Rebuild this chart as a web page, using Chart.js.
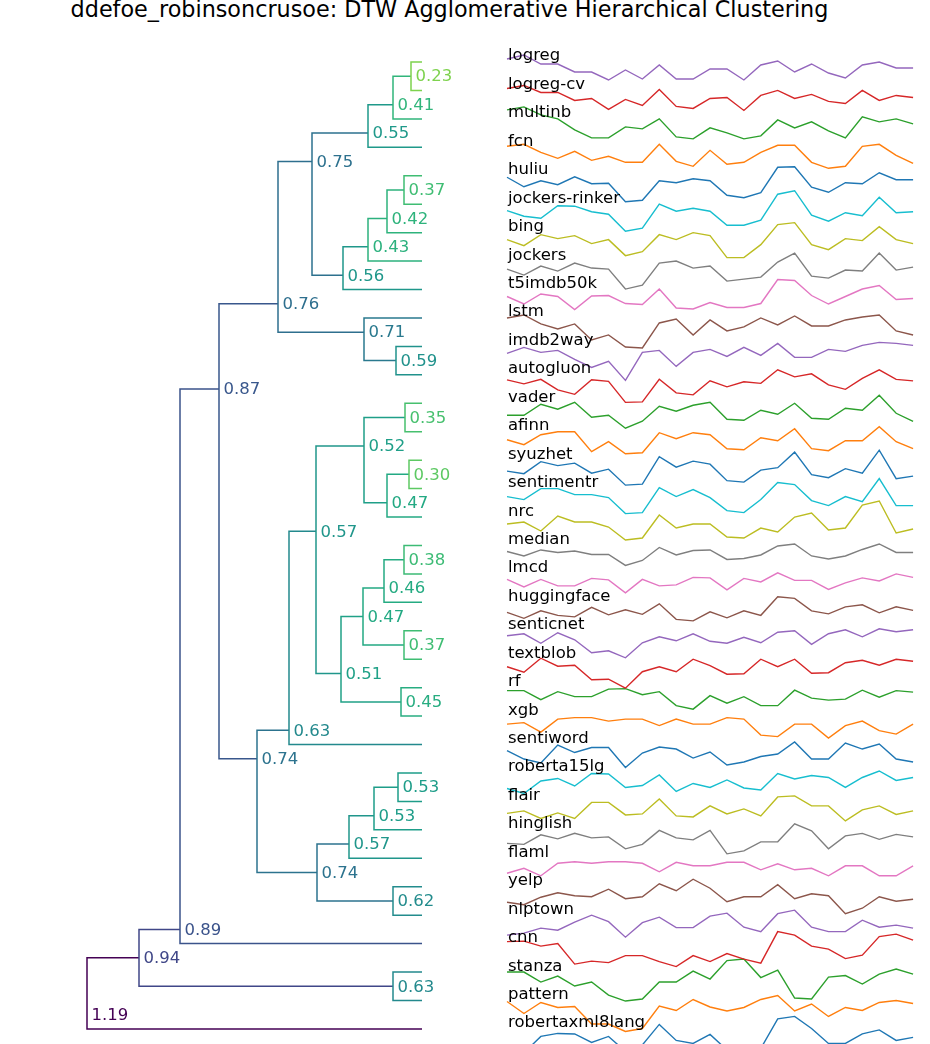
<!DOCTYPE html>
<html>
<head>
<meta charset="utf-8">
<script src="https://cdn.jsdelivr.net/npm/chart.js@4.4.1/dist/chart.umd.min.js"></script>
<style>
html, body { margin: 0; padding: 0; background: #fff; }
body { width: 930px; height: 1044px; position: relative; overflow: hidden; font-family: "DejaVu Sans", sans-serif; }
#title { position: absolute; left: 0; top: -2px; width: 899px; text-align: center; font-size: 22.3px; line-height: 22px; color: #000; white-space: nowrap; }
#dendroBox { position: absolute; left: 0; top: 0; width: 470px; height: 1044px; }
#seriesBox { position: absolute; left: 500px; top: 0; width: 430px; height: 1044px; }
</style>
</head>
<body>
<div id="title">ddefoe_robinsoncrusoe: DTW Agglomerative Hierarchical Clustering</div>
<div id="dendroBox"><canvas id="dendro"></canvas></div>
<div id="seriesBox"><canvas id="series"></canvas></div>
<script>
// leaves, top to bottom
const leaf_names = ["logreg", "logreg-cv", "multinb", "fcn", "huliu", "jockers-rinker", "bing", "jockers",
  "t5imdb50k", "lstm", "imdb2way", "autogluon", "vader", "afinn", "syuzhet", "sentimentr", "nrc", "median",
  "lmcd", "huggingface", "senticnet", "textblob", "rf", "xgb", "sentiword", "roberta15lg", "flair", "hinglish",
  "flaml", "yelp", "nlptown", "cnn", "stanza", "pattern", "robertaxml8lang"];

// merges: ids < 35 are leaves, id 35 + k is merge k
const merge_first  = [0, 35, 36, 4, 38, 39, 40, 37, 10, 9, 42, 12, 14, 47, 46, 17, 50, 20, 51, 22, 53, 49, 56, 25, 58, 59, 29, 60, 57, 45, 64, 32, 65, 67];
const merge_second = [1, 2, 3, 5, 6, 7, 8, 41, 11, 43, 44, 13, 15, 16, 48, 18, 19, 21, 52, 23, 54, 55, 24, 26, 27, 28, 30, 61, 62, 63, 31, 33, 66, 34];
const merge_dist   = [0.23, 0.41, 0.55, 0.37, 0.42, 0.43, 0.56, 0.75, 0.59, 0.71, 0.76, 0.35, 0.30, 0.47, 0.52, 0.38, 0.46, 0.37, 0.47, 0.45,
  0.51, 0.57, 0.63, 0.53, 0.53, 0.57, 0.62, 0.74, 0.74, 0.87, 0.89, 0.63, 0.94, 1.19];
// linkage height used for the tree layout
const merge_height = [1.1, 2.9, 5.4, 1.8, 3.5, 5.4, 7.9, 11.0, 2.6, 5.8, 14.4, 1.7, 1.3, 3.5, 5.8, 1.8, 3.8, 1.8, 5.9, 2.1,
  8.1, 10.6, 13.3, 2.4, 4.8, 7.3, 2.9, 10.5, 16.5, 20.3, 24.2, 2.9, 28.3, 33.5];

// sentiment arcs, 25 points each
const s_logreg = [1.1, 1.5, 0.6, 0.6, -0.2, -0.2, -1.0, 0.0, -0.9, 0.5, -0.9, -0.9, 0.1, 0.1, -1.0, 0.5, 0.9, -0.2, 0.6, -0.3, -0.8, 0.5, 0.8, 0.2, 0.2];
const s_logreg_cv = [1.0, 1.3, 0.6, 0.6, -0.2, 0.0, -1.1, -0.1, -0.7, 0.9, -0.8, -1.0, 0.0, 0.1, -1.2, 0.3, 0.8, 0.0, 0.4, -0.3, -0.5, 0.8, -0.2, 0.3, 0.1];
const s_multinb = [1.7, 2.0, 1.2, 0.8, -0.3, -1.1, -1.1, 0.0, -0.2, 0.8, -1.0, -1.2, -0.1, -0.6, -1.2, -0.9, 0.7, -0.1, 0.5, -0.4, -1.1, 1.0, 0.5, 0.8, 0.3];
const s_fcn = [0.9, 1.1, 0.3, -0.3, 0.4, -0.5, -0.1, -0.7, -0.7, 1.1, -0.6, -1.1, 0.5, -0.9, -0.7, 0.3, 1.0, 1.0, -0.7, -1.3, -1.1, 0.9, 1.1, 0.0, -0.8];
const s_huliu = [0.65, -0.3, 0.3, -0.1, 0.7, 0.0, 0.05, -1.8, -1.65, 0.3, 0.1, 0.5, 0.3, -1.15, -1.4, -0.9, 1.65, 1.7, -0.35, -0.85, 0.1, 0.0, 1.1, 0.4, 0.4];
const s_jockers_rinker = [0.15, -0.4, -0.6, 0.65, 0.6, 0.05, -0.2, -1.9, -1.6, 0.8, 0.1, 0.4, 0.1, -1.3, -1.3, -0.8, 1.8, 2.15, -0.3, -0.9, -0.05, -0.35, 1.5, -0.05, 0.05];
const s_bing = [0.1, -0.5, 0.6, 0.2, 0.5, -0.3, 0.1, -1.5, -1.1, 0.6, 0.1, 0.8, 0.5, -1.7, -1.7, -0.4, 1.6, 1.8, -0.4, -0.9, 0.2, 0.0, 1.4, 0.1, -0.3];
const s_jockers = [0.0, -0.6, 0.3, -0.2, 0.6, 0.1, 0.0, -2.0, -1.6, 0.6, 0.8, 0.1, 0.3, -1.2, -1.0, -0.8, 0.7, 1.6, -0.7, -0.9, -0.1, -0.2, 1.6, -0.1, 0.2];
const s_t5imdb50k = [0.1, -0.65, 0.35, 0.1, -1.2, 0.15, 0.2, -0.6, -0.7, 0.85, -1.05, -1.15, -0.5, -1.0, -1.0, -0.6, 1.8, 1.7, 0.2, -0.65, 0.1, 0.85, 1.2, -0.2, -0.1];
const s_lstm = [0.8, 1.1, 0.2, -0.3, 0.2, -1.4, -0.9, -2.1, -2.2, 0.3, 0.7, -0.9, 0.6, -0.5, -0.1, 0.8, 0.1, 1.0, 0.0, 0.0, 0.6, 0.9, 1.1, -0.5, -0.9];
const s_imdb2way = [0.1, 0.7, 0.2, 0.4, -0.5, -1.3, -0.7, -2.6, 0.2, 0.4, -1.2, 0.2, 0.5, -0.2, 0.7, -0.1, 1.1, -0.3, -0.3, 0.5, 0.3, 0.9, 1.2, 1.1, 0.9];
const s_autogluon = [0.3, -0.1, 0.35, -0.7, -1.15, 0.3, 0.15, -1.95, -1.9, 0.35, -1.0, -1.2, 0.2, -0.4, 0.1, -0.05, 1.3, 0.6, 0.9, -0.2, -0.65, 0.45, 1.3, 0.35, 0.2];
const s_vader = [-0.4, -0.4, 0.7, 0.2, 0.9, -0.6, -0.4, -1.7, -1.0, 0.5, 0.0, 0.6, 0.9, -0.8, -0.9, 0.1, -0.3, 0.8, -0.7, -0.8, 0.3, 0.1, 1.6, -0.2, -1.0];
const s_afinn = [0.0, -0.5, 0.5, 0.8, 0.8, -1.2, -0.2, -1.4, -1.3, 0.7, 0.1, 0.7, 0.5, -0.9, -1.0, 0.2, -0.1, 1.1, -0.9, -1.1, -0.1, -0.1, 1.3, -0.2, -0.9];
const s_syuzhet = [-0.3, -0.55, 0.65, 0.25, 0.5, -0.5, -0.1, -1.7, -1.6, 1.15, 0.1, 0.7, 0.4, -1.25, -1.4, -0.2, 0.05, 1.6, -0.65, -0.95, -0.05, -0.5, 1.8, -1.05, -0.8];
const s_sentimentr = [0.0, -0.3, 0.8, 0.8, 0.2, 0.2, -0.1, -1.7, -1.6, 0.9, 0.0, 0.7, -0.1, -1.4, -1.6, -0.3, 1.4, 1.2, -0.4, -0.9, 0.0, -0.5, 1.8, -0.9, -0.9];
const s_nrc = [0.1, 0.3, -0.6, 0.9, 0.3, 0.3, -0.2, -1.5, -1.3, 1.0, -0.3, 0.1, 0.1, -1.2, -1.3, -0.3, -0.7, 0.8, 1.2, -0.5, -0.3, 2.0, 2.4, -0.8, -0.4];
const s_median = [0.2, -0.25, 0.35, 0.1, 0.25, -0.1, -0.1, -1.2, -0.7, 0.6, -0.15, 0.3, 0.35, -0.6, -0.5, -0.15, 0.75, 0.95, -0.25, -0.55, -0.25, 0.4, 0.95, 0.1, 0.1];
const s_lmcd = [0.25, -0.5, 0.25, -0.4, -0.4, 0.35, 0.2, -1.1, 0.25, -0.4, -0.3, 0.45, 0.4, -0.8, 0.35, 0.0, 0.9, 0.15, 0.15, -0.75, -0.1, 0.4, 0.1, 0.8, 0.45];
const s_huggingface = [-0.2, -0.8, -0.05, -0.5, -0.65, 0.3, -0.45, 0.05, -0.4, 0.65, -0.9, -1.05, -0.15, -0.75, -0.05, -0.5, 1.35, 1.2, -0.05, -0.35, 0.35, 0.55, -0.25, 0.35, 0.0];
const s_senticnet = [0.3, 0.5, -0.45, 0.6, -0.1, -1.4, -1.2, -1.9, -0.4, 0.2, -0.2, 0.5, -0.25, -0.45, 0.15, -0.4, 0.65, 0.8, -0.55, 0.5, 0.9, 0.2, 1.0, 0.7, 0.9];
const s_textblob = [0.05, -0.5, 0.9, 0.1, 0.2, -1.25, -1.2, -2.1, -0.45, 0.05, -0.45, 0.8, 0.15, -0.7, -0.65, 0.8, 0.05, 0.8, -0.6, -0.55, 0.45, 0.7, 0.2, 0.8, 0.6];
const s_rf = [0.5, 0.5, -0.4, 0.4, -0.1, -0.1, 0.65, 0.7, 0.1, 0.4, -1.0, -1.35, 0.0, -0.75, -0.1, -1.0, -1.0, 0.55, -0.25, -0.45, -0.35, 0.55, -0.15, 0.5, 0.35];
const s_xgb = [0.0, 0.15, -0.8, 0.5, 0.65, 0.65, 0.3, 0.5, 0.5, -0.15, 0.5, 0.0, 0.0, 0.65, 0.5, -1.1, -1.25, 0.0, 0.0, -1.4, -0.15, 0.3, -0.65, -1.0, 0.0];
const s_sentiword = [0.2, -0.65, -1.05, 0.75, 0.0, 0.5, 0.5, -1.5, -0.05, 0.55, 0.35, -0.55, 0.05, -1.25, -0.95, -0.4, -0.15, 1.05, -0.65, -0.65, 0.95, 0.35, 0.85, -0.65, -0.95];
const s_roberta15lg = [-0.75, -1.25, 0.0, 0.25, -0.5, 0.75, 0.7, -0.65, -0.45, 0.6, -1.05, -0.25, -0.65, 0.1, -0.7, -0.9, 0.75, 0.2, 0.55, 0.35, -0.65, 0.35, 1.0, 0.05, 0.35];
const s_flair = [-0.4, -0.15, -0.9, -0.35, -0.9, 0.7, 0.7, -0.55, -0.45, 1.05, -0.65, -0.75, 0.35, -0.45, 0.05, -0.65, 1.25, 1.35, 0.35, 0.35, -1.15, -0.05, 0.35, -0.5, -0.15];
const s_hinglish = [-0.55, -0.65, 0.3, -0.1, 0.45, 0.0, 0.1, -1.1, -0.65, 0.75, 0.0, -0.2, 0.75, -1.6, -1.3, -0.4, -0.4, 1.4, 0.7, -1.1, 0.2, 0.45, -0.15, 0.35, 0.1];
const s_flaml = [-0.7, -0.2, -0.95, 0.3, 0.45, 0.3, 0.45, 0.45, 0.3, -0.55, 0.4, 0.05, 0.05, 0.4, 0.4, -0.35, 0.25, -0.35, -0.2, -0.95, 0.05, 0.05, -0.95, -0.95, 0.05];
const s_yelp = [-0.75, -1.0, -0.25, 0.2, -0.1, -0.2, 0.55, -0.4, -0.2, 1.1, 0.4, 1.55, 0.65, -0.7, -0.2, -0.2, 1.0, -0.4, 0.1, -0.1, -1.9, -1.35, -0.2, -0.65, -0.45];
const s_nlptown = [-1.2, -1.0, -0.5, -0.7, 0.1, 0.8, 0.15, -1.4, 0.05, 0.6, -0.45, -0.45, 0.7, 1.0, -0.4, -0.85, 0.95, 1.3, -0.4, -0.85, -0.85, 0.3, -0.4, -0.2, -0.5];
const s_cnn = [1.0, 1.05, 0.55, 0.8, -1.25, -0.95, -1.1, -0.4, -0.4, -1.0, -1.5, -0.4, -1.0, -0.2, -0.75, -1.15, 2.0, 1.65, 0.55, 0.25, -0.7, -0.35, 1.5, 1.75, 1.15];
const s_stanza = [0.8, 0.8, -0.2, 0.4, -0.6, -0.2, -1.5, -2.1, -1.9, -0.2, -0.2, 0.9, 0.1, 1.95, 2.1, 0.25, 1.0, -1.8, -1.9, 0.3, 0.45, -0.4, 0.6, 1.1, 0.6];
const s_pattern = [0.7, -0.5, 0.6, 0.1, 0.2, -1.55, -1.55, -2.3, -2.0, 0.25, -0.2, 0.9, 0.15, -0.25, 0.1, 0.9, 1.3, -0.25, 0.45, -0.8, 0.1, -0.2, 0.6, 0.8, 0.5];
const s_robertaxml8lang = [-1.3, -1.6, 0.05, 0.35, 0.3, -0.55, 0.05, -1.45, -0.8, 1.25, -0.35, -0.65, 0.25, -1.3, -1.45, -1.15, 1.8, 2.05, 0.85, -0.65, -0.65, 0.3, 0.7, -0.35, -0.05];

const series_rows = [s_logreg, s_logreg_cv, s_multinb, s_fcn, s_huliu, s_jockers_rinker, s_bing, s_jockers,
  s_t5imdb50k, s_lstm, s_imdb2way, s_autogluon, s_vader, s_afinn, s_syuzhet, s_sentimentr, s_nrc, s_median,
  s_lmcd, s_huggingface, s_senticnet, s_textblob, s_rf, s_xgb, s_sentiword, s_roberta15lg, s_flair, s_hinglish,
  s_flaml, s_yelp, s_nlptown, s_cnn, s_stanza, s_pattern, s_robertaxml8lang];

const tab10 = ['#1f77b4', '#ff7f0e', '#2ca02c', '#d62728', '#9467bd', '#8c564b', '#e377c2', '#7f7f7f', '#bcbd22', '#17becf'];
const viridisStops = ['#440154', '#471365', '#482475', '#463480', '#414487', '#3b528b', '#355f8d', '#2f6c8e', '#2a788e', '#25848e', '#21918c',
  '#1e9c89', '#22a884', '#2fb47c', '#44bf70', '#5ec962', '#7ad151', '#9bd93c', '#bddf26', '#dfe318', '#fde725'];

function hexToRgb(h) {
  return [parseInt(h.slice(1, 3), 16), parseInt(h.slice(3, 5), 16), parseInt(h.slice(5, 7), 16)];
}
function viridis(t) {
  t = Math.max(0, Math.min(1, t));
  const f = t * (viridisStops.length - 1);
  const i = Math.min(Math.floor(f), viridisStops.length - 2);
  const a = hexToRgb(viridisStops[i]), b = hexToRgb(viridisStops[i + 1]);
  const u = f - i;
  const c = a.map((v, k) => Math.round(v + (b[k] - v) * u));
  return `rgb(${c[0]},${c[1]},${c[2]})`;
}

const nLeaves = leaf_names.length;
const maxDist = Math.max(...merge_dist);
const FONT = '16.5px "DejaVu Sans", sans-serif';

// shared vertical scale in row units
const Y_MIN = -2.18, Y_MAX = 34.53;

// tree layout
const nodes = [];
for (let i = 0; i < nLeaves; i++) nodes.push({ h: 0, y: i, lo: i, hi: i });
for (let k = 0; k < merge_first.length; k++) {
  const a = nodes[merge_first[k]], b = nodes[merge_second[k]];
  nodes.push({ h: merge_height[k], y: (a.hi + b.lo) / 2, lo: a.lo, hi: b.hi });
}

const dendroSets = [];
for (let k = 0; k < merge_first.length; k++) {
  const a = nodes[merge_first[k]], b = nodes[merge_second[k]], n = nodes[nLeaves + k];
  const col = viridis(1 - merge_dist[k] / maxDist);
  dendroSets.push({
    data: [{ x: a.h, y: a.y }, { x: n.h, y: a.y }, { x: n.h, y: b.y }, { x: b.h, y: b.y }],
    borderColor: col,
    borderWidth: 1.5,
    showLine: true,
    pointRadius: 0,
    tension: 0
  });
}

const dendroLabels = {
  id: 'dendroLabels',
  afterDatasetsDraw(chart) {
    const ctx = chart.ctx, xs = chart.scales.x, ys = chart.scales.y;
    ctx.save();
    ctx.font = FONT;
    ctx.textAlign = 'left';
    ctx.textBaseline = 'middle';
    for (let k = 0; k < merge_first.length; k++) {
      const n = nodes[nLeaves + k];
      ctx.fillStyle = viridis(1 - merge_dist[k] / maxDist);
      ctx.fillText(merge_dist[k].toFixed(2), xs.getPixelForValue(n.h) + 4.5, ys.getPixelForValue(n.y) + 1);
    }
    ctx.restore();
  }
};

new Chart(document.getElementById('dendro'), {
  type: 'scatter',
  data: { datasets: dendroSets },
  options: {
    responsive: true,
    maintainAspectRatio: false,
    animation: false,
    events: [],
    layout: { padding: 0 },
    plugins: { legend: { display: false }, tooltip: { enabled: false } },
    scales: {
      x: { type: 'linear', display: false, reverse: true, min: -4.8, max: 42.2 },
      y: { type: 'linear', display: false, reverse: true, min: Y_MIN, max: Y_MAX }
    }
  },
  plugins: [dendroLabels]
});

// series panel
const AMP = 10 / 28.44, BASE = 8 / 28.44;
const seriesSets = series_rows.map((vals, row) => ({
  data: vals.map((v, i) => ({ x: i, y: row + BASE - v * AMP })),
  borderColor: tab10[(nLeaves - 1 - row) % 10],
  borderWidth: 1.4,
  showLine: true,
  pointRadius: 0,
  tension: 0
}));

const rowLabels = {
  id: 'rowLabels',
  afterDatasetsDraw(chart) {
    const ctx = chart.ctx, xs = chart.scales.x, ys = chart.scales.y;
    ctx.save();
    ctx.font = FONT;
    ctx.fillStyle = '#000';
    ctx.textAlign = 'left';
    ctx.textBaseline = 'alphabetic';
    leaf_names.forEach((name, row) => {
      ctx.fillText(name, xs.getPixelForValue(0) + 1, ys.getPixelForValue(row) - 1.5);
    });
    ctx.restore();
  }
};

new Chart(document.getElementById('series'), {
  type: 'scatter',
  data: { datasets: seriesSets },
  options: {
    responsive: true,
    maintainAspectRatio: false,
    animation: false,
    events: [],
    layout: { padding: 0 },
    plugins: { legend: { display: false }, tooltip: { enabled: false } },
    scales: {
      x: { type: 'linear', display: false, min: -0.414, max: 25.0 },
      y: { type: 'linear', display: false, reverse: true, min: Y_MIN, max: Y_MAX }
    }
  },
  plugins: [rowLabels]
});
</script>
</body>
</html>
